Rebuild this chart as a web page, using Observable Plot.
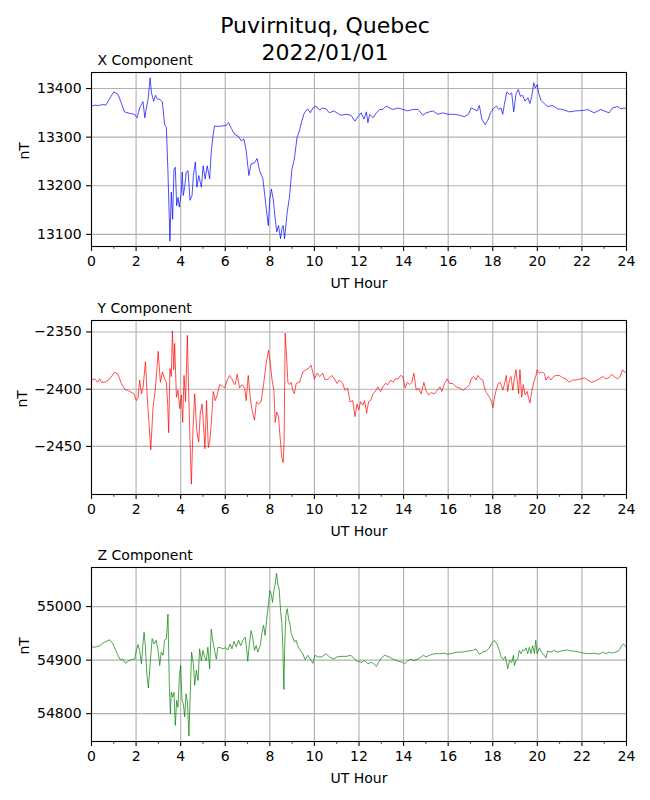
<!DOCTYPE html>
<html><head><meta charset="utf-8">
<script src="https://cdn.jsdelivr.net/npm/d3@7"></script>
<script src="https://cdn.jsdelivr.net/npm/@observablehq/plot@0.6"></script>
<style>
body{margin:0;background:white;font-family:"DejaVu Sans",sans-serif;color:black;}
#wrap{position:relative;width:650px;height:800px;overflow:hidden;}
.title{position:absolute;left:0;top:13px;width:650px;text-align:center;font-size:22px;line-height:26.7px;}
.panel{position:absolute;left:0;}
</style></head>
<body>
<div id="wrap">
<div class="title">Puvirnituq, Quebec<br>2022/01/01</div>
</div>
<script>
const stationName = "Puvirnituq, Quebec";
const dateLabel = "2022/01/01";
const xMajorTicks = [0,2,4,6,8,10,12,14,16,18,20,22,24];
const xMinorTicks = [1,3,5,7,9,11,13,15,17,19,21,23];

const xHours = [0,0.15,0.3,0.5,0.65,0.74,1.0,1.19,1.33,1.48,1.7,1.93,2.04,2.16,2.24,2.31,2.39,2.46,2.54,2.63,2.69,2.79,2.87,2.96,3.06,3.18,3.28,3.36,3.43,3.52,3.58,3.64,3.70,3.76,3.82,3.88,3.94,4.03,4.07,4.12,4.18,4.25,4.33,4.42,4.51,4.57,4.66,4.73,4.81,4.93,5.01,5.10,5.19,5.30,5.37,5.45,5.52,5.67,5.85,6.04,6.15,6.27,6.42,6.60,6.72,6.84,6.94,7.06,7.16,7.31,7.43,7.54,7.69,7.84,7.93,8.00,8.07,8.15,8.24,8.31,8.39,8.48,8.54,8.60,8.66,8.78,8.88,8.99,9.10,9.22,9.33,9.43,9.55,9.70,9.82,9.93,10.07,10.22,10.37,10.52,10.67,10.87,11.04,11.19,11.42,11.64,11.82,11.97,12.1,12.22,12.33,12.4,12.48,12.63,12.78,12.93,13.07,13.22,13.37,13.52,13.75,13.97,14.19,14.42,14.64,14.87,15.01,15.31,15.54,15.76,15.99,16.28,16.51,16.73,16.91,17.03,17.18,17.3,17.4,17.51,17.66,17.78,17.9,18.01,18.16,18.27,18.37,18.45,18.52,18.63,18.75,18.85,18.94,19.04,19.15,19.24,19.34,19.45,19.57,19.67,19.75,19.84,19.91,19.99,20.06,20.16,20.31,20.46,20.69,20.91,21.13,21.43,21.73,22.1,22.25,22.55,22.85,23.0,23.22,23.37,23.6,23.75,23.9,24];
const xValues = [13364,13366,13365,13367,13366,13374,13393,13388,13371,13352,13349,13347,13340,13360,13367,13373,13340,13360,13378,13422,13391,13374,13386,13378,13378,13372,13326,13320,13228,13086,13187,13131,13234,13238,13159,13176,13156,13187,13228,13180,13197,13228,13231,13170,13180,13221,13249,13197,13221,13197,13241,13214,13241,13214,13268,13303,13323,13322,13323,13324,13330,13318,13306,13301,13292,13296,13272,13221,13245,13247,13256,13231,13214,13153,13118,13173,13193,13173,13132,13105,13118,13091,13112,13118,13091,13146,13176,13234,13255,13299,13313,13333,13350,13358,13350,13360,13364,13356,13360,13358,13350,13354,13349,13345,13347,13345,13333,13343,13350,13337,13352,13330,13347,13340,13350,13357,13357,13364,13360,13357,13360,13357,13354,13357,13357,13345,13350,13354,13347,13350,13347,13347,13345,13342,13347,13360,13357,13354,13365,13337,13326,13335,13350,13358,13364,13357,13360,13347,13367,13393,13388,13391,13352,13388,13398,13384,13386,13374,13381,13369,13384,13412,13401,13408,13391,13376,13369,13363,13365,13358,13357,13352,13354,13355,13357,13350,13357,13354,13350,13360,13363,13358,13360,13358];

const yHours = [0,0.15,0.27,0.37,0.45,0.6,0.82,1.04,1.19,1.34,1.49,1.72,1.91,2.01,2.09,2.16,2.24,2.31,2.42,2.51,2.58,2.66,2.76,2.87,2.99,3.09,3.18,3.28,3.36,3.42,3.46,3.52,3.58,3.63,3.69,3.73,3.81,3.88,3.96,4.03,4.09,4.15,4.22,4.30,4.36,4.42,4.48,4.55,4.63,4.72,4.81,4.88,4.96,5.01,5.09,5.16,5.24,5.31,5.39,5.46,5.55,5.64,5.75,5.85,5.97,6.09,6.19,6.30,6.39,6.45,6.54,6.64,6.75,6.87,6.94,7.03,7.12,7.21,7.31,7.40,7.49,7.61,7.73,7.84,7.94,8.03,8.10,8.18,8.24,8.31,8.39,8.46,8.54,8.60,8.64,8.69,8.75,8.81,8.88,8.96,9.03,9.10,9.18,9.33,9.48,9.63,9.73,9.85,10.0,10.12,10.24,10.37,10.48,10.63,10.78,10.90,11.01,11.12,11.27,11.37,11.49,11.60,11.72,11.82,11.91,11.99,12.07,12.18,12.25,12.34,12.43,12.52,12.63,12.73,12.85,12.97,13.07,13.18,13.30,13.42,13.52,13.63,13.75,13.87,13.97,14.07,14.16,14.27,14.37,14.46,14.57,14.67,14.79,14.91,15.0,15.12,15.24,15.39,15.51,15.63,15.72,15.84,15.96,16.06,16.21,16.36,16.51,16.66,16.81,16.96,17.03,17.15,17.25,17.33,17.45,17.55,17.66,17.75,17.85,17.93,18.01,18.07,18.15,18.25,18.34,18.45,18.52,18.61,18.67,18.75,18.82,18.90,18.97,19.04,19.12,19.16,19.22,19.30,19.37,19.45,19.54,19.61,19.67,19.75,19.84,19.94,19.99,20.09,20.19,20.31,20.39,20.49,20.61,20.73,20.84,20.99,21.13,21.28,21.43,21.58,21.73,21.96,22.10,22.25,22.43,22.58,22.78,22.93,23.07,23.22,23.33,23.45,23.60,23.72,23.82,23.90,24.0];
const yValues = [-2392,-2391,-2394,-2391,-2394,-2394,-2391,-2385,-2387,-2395,-2400,-2402,-2404,-2410,-2407,-2392,-2404,-2399,-2376,-2410,-2430,-2453,-2416,-2399,-2367,-2394,-2385,-2391,-2394,-2414,-2438,-2382,-2389,-2349,-2383,-2360,-2407,-2401,-2417,-2405,-2429,-2388,-2411,-2353,-2404,-2445,-2483,-2436,-2404,-2436,-2446,-2421,-2413,-2427,-2452,-2410,-2451,-2445,-2426,-2402,-2410,-2405,-2396,-2397,-2399,-2392,-2388,-2391,-2395,-2396,-2387,-2399,-2396,-2399,-2410,-2388,-2407,-2419,-2427,-2411,-2413,-2411,-2394,-2377,-2366,-2379,-2392,-2401,-2429,-2420,-2424,-2442,-2460,-2464,-2445,-2351,-2371,-2394,-2396,-2394,-2401,-2404,-2395,-2394,-2385,-2383,-2382,-2379,-2391,-2386,-2389,-2386,-2392,-2391,-2388,-2391,-2395,-2392,-2395,-2401,-2399,-2411,-2410,-2424,-2413,-2418,-2411,-2414,-2410,-2421,-2411,-2410,-2404,-2402,-2398,-2402,-2398,-2395,-2396,-2392,-2394,-2391,-2391,-2388,-2389,-2399,-2394,-2396,-2394,-2386,-2401,-2399,-2404,-2394,-2401,-2405,-2403,-2404,-2401,-2398,-2402,-2395,-2391,-2395,-2395,-2398,-2399,-2401,-2399,-2396,-2391,-2389,-2392,-2388,-2391,-2392,-2401,-2404,-2407,-2410,-2416,-2408,-2401,-2395,-2394,-2401,-2396,-2388,-2402,-2392,-2389,-2401,-2391,-2383,-2396,-2404,-2383,-2407,-2396,-2405,-2402,-2408,-2412,-2402,-2394,-2388,-2383,-2386,-2385,-2386,-2392,-2389,-2392,-2389,-2388,-2388,-2390,-2391,-2394,-2392,-2392,-2391,-2390,-2392,-2394,-2393,-2391,-2389,-2391,-2390,-2387,-2389,-2391,-2389,-2383,-2385,-2385];

const zHours = [0,0.15,0.37,0.6,0.82,0.97,1.12,1.27,1.42,1.52,1.64,1.79,1.94,2.01,2.09,2.16,2.24,2.30,2.36,2.42,2.48,2.55,2.63,2.72,2.81,2.90,2.99,3.06,3.13,3.21,3.28,3.36,3.43,3.49,3.54,3.58,3.64,3.70,3.76,3.82,3.88,3.94,4.00,4.06,4.12,4.18,4.24,4.31,4.37,4.43,4.49,4.57,4.63,4.70,4.78,4.85,4.93,5.00,5.07,5.15,5.22,5.30,5.37,5.45,5.52,5.60,5.67,5.79,5.90,6.00,6.12,6.22,6.30,6.39,6.49,6.60,6.69,6.79,6.90,6.96,7.01,7.09,7.16,7.24,7.31,7.39,7.46,7.57,7.64,7.72,7.79,7.87,7.94,8.00,8.06,8.12,8.18,8.24,8.30,8.36,8.42,8.48,8.54,8.58,8.63,8.67,8.72,8.78,8.84,8.90,8.96,9.03,9.10,9.18,9.25,9.37,9.48,9.58,9.70,9.82,9.93,10.03,10.15,10.33,10.52,10.67,10.87,11.01,11.19,11.42,11.64,11.79,11.94,12.1,12.25,12.4,12.55,12.7,12.78,12.88,13.0,13.15,13.3,13.52,13.75,13.97,14.04,14.19,14.34,14.46,14.64,14.79,14.9,15.01,15.16,15.39,15.61,15.81,15.99,16.21,16.43,16.66,16.88,17.1,17.25,17.4,17.55,17.7,17.85,17.96,18.07,18.19,18.3,18.37,18.48,18.57,18.67,18.75,18.85,18.93,18.97,19.04,19.12,19.19,19.27,19.34,19.42,19.49,19.57,19.64,19.72,19.79,19.87,19.93,19.99,20.09,20.19,20.31,20.39,20.46,20.61,20.76,20.91,21.06,21.21,21.36,21.51,21.66,21.88,22.1,22.33,22.55,22.78,22.93,23.07,23.22,23.37,23.52,23.67,23.78,23.87,24];
const zValues = [54925,54924,54927,54934,54938,54930,54915,54902,54901,54894,54898,54901,54902,54918,54929,54918,54893,54927,54952,54924,54875,54848,54893,54940,54930,54937,54918,54890,54915,54909,54938,54940,54986,54856,54800,54840,54831,54840,54778,54825,54812,54868,54890,54825,54819,54794,54837,54819,54758,54837,54915,54893,54853,54881,54862,54921,54899,54918,54906,54899,54924,54884,54958,54934,54918,54902,54924,54923,54921,54923,54919,54930,54921,54935,54925,54937,54927,54937,54943,54921,54898,54934,54955,54940,54918,54927,54915,54927,54949,54965,54946,54980,55005,55030,55024,55008,55030,55042,55062,55042,55033,54993,54968,54930,54845,54930,54983,54996,54977,54968,54949,54943,54934,54937,54927,54918,54912,54901,54909,54902,54894,54909,54906,54906,54912,54906,54902,54906,54907,54907,54909,54902,54898,54896,54899,54893,54896,54892,54888,54896,54904,54909,54907,54902,54898,54896,54893,54899,54902,54899,54902,54906,54909,54906,54909,54912,54912,54913,54911,54913,54915,54915,54917,54918,54921,54911,54915,54917,54923,54932,54937,54930,54918,54906,54901,54907,54884,54899,54896,54909,54890,54899,54902,54918,54912,54919,54918,54923,54912,54924,54912,54927,54912,54937,54912,54923,54915,54909,54904,54917,54915,54918,54915,54917,54918,54919,54917,54917,54915,54913,54912,54913,54911,54915,54912,54915,54913,54915,54918,54927,54930,54923];

const xTicksY = [13100,13200,13300,13400];
const yTicksY = [-2450,-2400,-2350];
const zTicksY = [54800,54900,55000];

const panelTitles = ["X Component","Y Component","Z Component"];
const xLabel = "UT Hour";
const yLabel = "nT";
const colors = ["blue","red","green"];

function fmt(d){ return String(d).replace("-", "\u2212"); }

function makePanel(hours, values, color, domain, ticks, title, top, mt, mb, labelDx){
  const data = hours.map((h,i) => ({hour:h, value:values[i]}));
  const gridStyle = {stroke:"#b0b0b0", strokeOpacity:1, strokeWidth:1.1};
  const svg = Plot.plot({
    width:650, height: mt+174+mb,
    marginLeft:91, marginRight:24, marginTop:mt, marginBottom:mb,
    style:{background:"transparent", fontFamily:"'DejaVu Sans', sans-serif", fontSize:"14px", color:"black", overflow:"visible"},
    x:{domain:[0,24]},
    y:{domain},
    marks:[
      Plot.gridX(xMajorTicks, gridStyle),
      Plot.gridY(ticks, gridStyle),
      Plot.line(data, {x:"hour", y:"value", stroke:color, strokeWidth:0.7}),
      Plot.frame({stroke:"black", strokeWidth:1.1}),
      Plot.axisX(xMajorTicks, {tickSize:4.9, tickPadding:5, tickFormat:d=>String(d), label:null, fontSize:14, strokeWidth:1.1}),
      Plot.axisX(xMinorTicks, {tickSize:2.8, tickPadding:0, tickFormat:()=>"", label:null, strokeWidth:0.8}),
      Plot.axisY(ticks, {tickSize:4.9, tickPadding:5, tickFormat:fmt, label:null, fontSize:14, strokeWidth:1.1}),
      Plot.text([xLabel], {text:d=>d, frameAnchor:"bottom", lineAnchor:"bottom", dy:41, fontSize:14}),
      Plot.text([yLabel], {text:d=>d, frameAnchor:"left", rotate:-90, dx:labelDx, fontSize:14}),
      Plot.text([title], {text:d=>d, frameAnchor:"top-left", textAnchor:"start", lineAnchor:"bottom", dx:6, dy:-8, fontSize:14})
    ]
  });
  svg.classList.add("panel");
  svg.style.top = top + "px";
  svg.style.position = "absolute";
  svg.style.left = "0px";
  document.getElementById("wrap").appendChild(svg);
}

makePanel(xHours, xValues, colors[0], [13075,13433], xTicksY, panelTitles[0], 44, 28, 52, -67);
makePanel(yHours, yValues, colors[1], [-2492,-2340], yTicksY, panelTitles[1], 298, 22, 52, -69);
makePanel(zHours, zValues, colors[2], [54748,55073], zTicksY, panelTitles[2], 546, 21, 53, -67);
</script>
</body></html>
